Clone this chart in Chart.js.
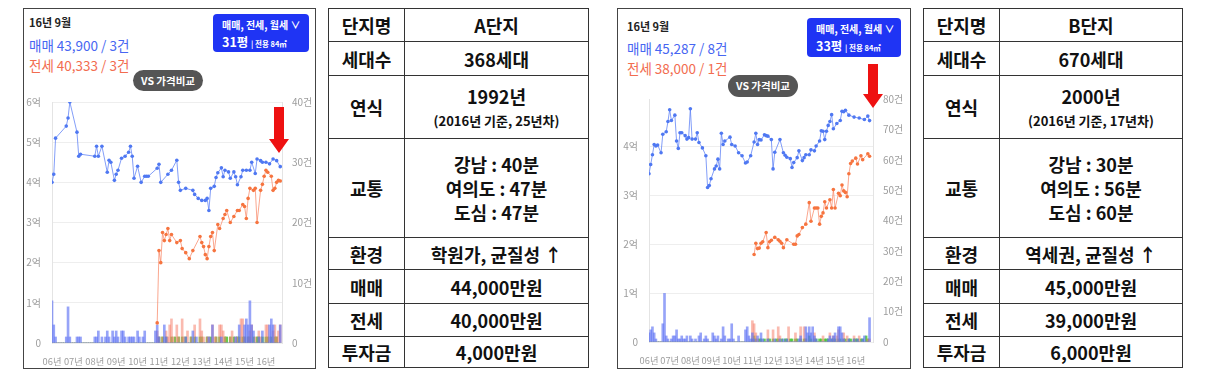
<!DOCTYPE html>
<html>
<head>
<meta charset="utf-8">
<script src="https://cdn.jsdelivr.net/npm/chart.js@4/dist/chart.umd.min.js"></script>
<style>
  body { margin: 0; width: 1211px; height: 374px; background: #fff; position: relative; overflow: hidden;
         font-family: "Noto Sans CJK KR", "Noto Sans", sans-serif; }
  .panel { position: absolute; top: 8px; height: 361px; border: 1px solid #444; box-sizing: border-box; }
  .abs { position: absolute; white-space: nowrap; }
  .date { font-size: 11px; font-weight: 700; color: #222; }
  .sale { font-size: 13.5px; color: #4766f2; }
  .jeonse { font-size: 13.5px; color: #f26c4f; }
  .box { background: #1f34f4; color: #fff; border-radius: 4px; box-sizing: border-box; padding: 3px 0 0 9px; }
  .box .l1 { font-size: 10px; font-weight: 700; line-height: 16px; }
  .box .l2 { font-size: 12.5px; font-weight: 700; line-height: 18px; }
  .box .l2 small { font-size: 7.5px; font-weight: 700; }
  .vs { background: #555; color: #fff; border-radius: 11px; font-size: 10.5px; font-weight: 700;
        text-align: center; box-sizing: border-box; }
  .chartbox { position: absolute; }
  table { position: absolute; top: 8px; border-collapse: collapse; table-layout: fixed; }
  td { border: 1.5px solid #333; text-align: center; font-size: 18px; font-weight: 700; color: #111;
       padding: 0; line-height: 22px; }
  td small { font-size: 13px; font-weight: 700; line-height: 19px; }
</style>
</head>
<body>

<!-- A단지 -->
<div class="panel" style="left:23px;width:293px;"></div>
<div class="abs date" style="left:29px;top:14px;">16년 9월</div>
<div class="abs sale" style="left:29px;top:35px;">매매 43,900 / 3건</div>
<div class="abs jeonse" style="left:29px;top:55px;">전세 40,333 / 3건</div>
<div class="abs box" style="left:213px;top:14px;width:96px;height:38px;">
  <div class="l1">매매, 전세, 월세 ∨</div>
  <div class="l2">31평 <small>| 전용 84㎡</small></div>
</div>
<div class="abs vs" style="left:133px;top:70px;width:70px;height:21px;line-height:21px;">VS 가격비교</div>
<div class="chartbox" style="left:24px;top:85px;width:290px;height:283px;"><canvas id="chartA"></canvas></div>
<svg class="abs" style="left:269px;top:107px;" width="20" height="46">
  <polygon points="5,0 15,0 15,32 20,32 10,46 0,32 5,32" fill="#ee1111"/>
</svg>

<table style="left:328px;width:261px;">
  <colgroup><col style="width:76px"><col></colgroup>
  <tr style="height:33px"><td>단지명</td><td>A단지</td></tr>
  <tr style="height:34px"><td>세대수</td><td>368세대</td></tr>
  <tr style="height:63px"><td>연식</td><td>1992년<br><small>(2016년 기준, 25년차)</small></td></tr>
  <tr style="height:99px"><td>교통</td><td style="line-height:24px">강남 : 40분<br>여의도 : 47분<br>도심 : 47분</td></tr>
  <tr style="height:32px"><td>환경</td><td>학원가, 균질성 ↑</td></tr>
  <tr style="height:34px"><td>매매</td><td>44,000만원</td></tr>
  <tr style="height:33px"><td>전세</td><td>40,000만원</td></tr>
  <tr style="height:31px"><td>투자금</td><td>4,000만원</td></tr>
</table>

<!-- B단지 -->
<div class="panel" style="left:617px;width:294px;"></div>
<div class="abs date" style="left:627px;top:18px;">16년 9월</div>
<div class="abs sale" style="left:627px;top:38px;">매매 45,287 / 8건</div>
<div class="abs jeonse" style="left:627px;top:58px;">전세 38,000 / 1건</div>
<div class="abs box" style="left:807px;top:18px;width:94px;height:39px;">
  <div class="l1">매매, 전세, 월세 ∨</div>
  <div class="l2">33평 <small>| 전용 84㎡</small></div>
</div>
<div class="abs vs" style="left:728px;top:75px;width:70px;height:22px;line-height:22px;">VS 가격비교</div>
<div class="chartbox" style="left:618px;top:82px;width:291px;height:285px;"><canvas id="chartB"></canvas></div>
<svg class="abs" style="left:863px;top:64px;" width="20" height="44">
  <polygon points="5,0 15,0 15,30 20,30 10,44 0,30 5,30" fill="#ee1111"/>
</svg>

<table style="left:923px;width:260px;">
  <colgroup><col style="width:76px"><col></colgroup>
  <tr style="height:33px"><td>단지명</td><td>B단지</td></tr>
  <tr style="height:34px"><td>세대수</td><td>670세대</td></tr>
  <tr style="height:63px"><td>연식</td><td>2000년<br><small>(2016년 기준, 17년차)</small></td></tr>
  <tr style="height:99px"><td>교통</td><td style="line-height:24px">강남 : 30분<br>여의도 : 56분<br>도심 : 60분</td></tr>
  <tr style="height:32px"><td>환경</td><td>역세권, 균질성 ↑</td></tr>
  <tr style="height:34px"><td>매매</td><td>45,000만원</td></tr>
  <tr style="height:33px"><td>전세</td><td>39,000만원</td></tr>
  <tr style="height:31px"><td>투자금</td><td>6,000만원</td></tr>
</table>

<script>
// x values are months counted from 2006-01 (0 = 06년 1월, 128 = 16년 9월)
const yearLabels = ["06년", "07년", "08년", "09년", "10년", "11년", "12년", "13년", "14년", "15년", "16년"];
// price ticks in 만원, count ticks in 건
const priceTicksA = [0, 10000, 20000, 30000, 40000, 50000, 60000];
const countTicksA = [0, 10, 20, 30, 40];
const priceTicksB = [0, 10000, 20000, 30000, 40000];
const countTicksB = [0, 10, 20, 30, 40, 50, 60, 70, 80];

// ---- A단지 ----
const saleMonthsA = [0, 1, 2, 8, 9, 10, 14, 15, 16, 24, 25, 26, 28, 31, 32, 33, 35, 36, 37, 39, 41, 43, 44, 45, 46, 48,
  50, 52, 53, 54, 59, 60, 61, 65, 67, 70, 71, 72, 75, 79, 80, 82, 84, 86, 87, 88, 89, 91, 92, 93, 95, 96, 97, 99, 100,
  102, 103, 104, 106, 107, 109, 111, 112, 114, 115, 117, 118, 120, 122, 124, 126, 128];
const salePriceA = [40000, 42000, 51000, 54000, 56000, 60000, 52500, 46500, 47000, 46500, 49000, 46500, 49000, 42500,
  45500, 45000, 40500, 42000, 43000, 46000, 46500, 47500, 49000, 46500, 41000, 44000, 40000, 41500, 41500, 41500, 43500,
  44500, 40000, 42000, 43000, 45500, 40000, 38000, 38500, 38000, 37000, 36000, 35500, 35500, 36000, 33000, 38500, 39000,
  41200, 42400, 43600, 41400, 43000, 42600, 41000, 42600, 41400, 39400, 41400, 43000, 43000, 43000, 45000, 42200, 45800,
  45400, 45000, 45000, 44600, 45800, 45400, 43900];
const jeonseMonthsA = [59, 60, 61, 62, 63, 64, 65, 66, 67, 70, 72, 73, 75, 77, 79, 83, 84, 85, 86, 87, 88, 89, 90, 91,
  93, 94, 96, 97, 98, 100, 102, 104, 105, 107, 108, 109, 110, 111, 113, 114, 115, 117, 118, 119, 120, 121, 123, 124,
  125, 126, 127, 128];
const jeonsePriceA = [5000, 23000, 20000, 27500, 25500, 27000, 28500, 25500, 27000, 25000, 25500, 23500, 22500, 21000,
  23000, 26500, 25000, 24000, 22000, 21000, 24000, 26500, 27500, 23000, 29500, 28500, 31000, 32000, 33000, 30000, 31500,
  33000, 33000, 34500, 34000, 31000, 36000, 38500, 38000, 38500, 30000, 38000, 39500, 41500, 43000, 42500, 41500, 38000,
  38500, 40000, 40500, 40333];
const saleCountA = [
  7, 3, 1, 0, 0, 0, 0, 0, 1, 6, 1, 0,
  0, 0, 1, 1, 1, 0, 0, 0, 0, 0, 0, 0,
  1, 1, 2, 0, 1, 0, 1, 2, 1, 0, 2, 1,
  2, 1, 0, 2, 2, 1, 0, 1, 1, 1, 1, 0,
  2, 1, 0, 1, 2, 0, 0, 0, 0, 0, 2, 3,
  1, 0, 0, 3, 1, 0, 0, 0, 0, 0, 0, 0,
  0, 0, 0, 1, 0, 0, 0, 2, 0, 1, 0, 0,
  0, 0, 0, 0, 1, 0, 3, 0, 0, 0, 0, 1,
  0, 0, 0, 0, 0, 0, 0, 1, 0, 3, 0, 0,
  3, 4, 3, 7, 3, 2, 0, 0, 1, 0, 2, 0,
  0, 0, 3, 4, 3, 0, 0, 0, 3];
const jeonseCountA = [
  0, 0, 0, 0, 0, 0, 0, 0, 0, 0, 0, 0,
  0, 0, 0, 0, 0, 0, 0, 0, 0, 0, 0, 0,
  0, 0, 0, 0, 0, 0, 0, 0, 0, 0, 0, 0,
  0, 0, 0, 0, 0, 0, 0, 0, 0, 0, 0, 0,
  0, 0, 0, 0, 0, 0, 0, 0, 0, 0, 0, 2,
  1, 0, 1, 0, 2, 1, 3, 4, 1, 0, 3, 1,
  0, 4, 1, 0, 2, 0, 1, 0, 3, 0, 0, 4,
  2, 1, 0, 1, 1, 0, 3, 1, 1, 0, 3, 3,
  2, 1, 0, 0, 1, 2, 0, 1, 1, 0, 4, 4,
  1, 0, 1, 2, 3, 0, 1, 0, 2, 1, 0, 0,
  3, 3, 1, 0, 2, 3, 1, 2, 3];
const rentCountA = [
  0, 0, 0, 0, 0, 0, 0, 0, 0, 0, 0, 0,
  0, 0, 0, 0, 0, 0, 0, 0, 0, 0, 0, 0,
  0, 0, 0, 0, 0, 0, 0, 0, 0, 0, 0, 0,
  0, 0, 0, 0, 0, 0, 0, 0, 0, 0, 0, 0,
  0, 0, 0, 0, 0, 0, 0, 0, 0, 0, 0, 0,
  1, 0, 1, 0, 1, 0, 0, 1, 0, 1, 0, 1,
  0, 1, 0, 1, 0, 0, 1, 0, 1, 0, 0, 1,
  1, 0, 0, 1, 0, 1, 0, 0, 1, 0, 1, 0,
  0, 1, 1, 0, 1, 0, 1, 0, 1, 1, 0, 1,
  1, 0, 1, 1, 0, 1, 0, 1, 1, 0, 1, 0,
  1, 1, 0, 1, 0, 1, 1, 0, 0];

// ---- B단지 ----
const saleMonthsB = [0, 1, 2, 3, 4, 5, 7, 8, 10, 11, 12, 13, 15, 16, 17, 18, 19, 21, 22, 23, 24, 25, 27, 28, 29, 31, 33,
  34, 35, 36, 38, 39, 40, 41, 42, 43, 44, 47, 48, 50, 52, 54, 56, 57, 59, 61, 62, 63, 64, 65, 67, 68, 69, 71, 72, 73,
  76, 78, 79, 80, 82, 83, 84, 86, 87, 89, 90, 91, 93, 94, 96, 97, 99, 100, 101, 102, 103, 104, 105, 106, 107, 109, 111,
  112, 113, 114, 116, 119, 122, 125, 127, 128];
const salePriceB = [34400, 36300, 38300, 40400, 40100, 40300, 38700, 42500, 43000, 45100, 47500, 45300, 46400, 41100,
  39600, 42800, 42800, 42200, 41500, 41800, 47700, 41500, 41500, 42800, 40800, 39700, 38100, 31600, 32000, 33400, 35400,
  36000, 37400, 35400, 42700, 40400, 41100, 41900, 40400, 40100, 38700, 38100, 36600, 36800, 38100, 40900, 42700, 40400,
  41400, 41300, 42400, 42200, 42100, 41400, 35400, 38800, 41400, 38700, 38200, 37800, 37500, 35700, 36700, 37700, 39100,
  37100, 37700, 38300, 38300, 39300, 39100, 40100, 41100, 43200, 43100, 41400, 43100, 44300, 45100, 46500, 43600, 44700,
  45300, 47200, 47100, 47400, 46400, 46000, 45800, 45500, 46200, 45287];
const jeonseMonthsB = [61, 62, 63, 64, 65, 66, 68, 69, 70, 71, 73, 75, 76, 77, 78, 80, 84, 85, 86, 87, 89, 91, 93, 94,
  96, 97, 98, 99, 100, 101, 102, 103, 105, 106, 107, 108, 110, 111, 112, 113, 114, 115, 116, 117, 118, 120, 121, 123,
  124, 127, 128];
const jeonsePriceB = [17900, 20200, 19100, 19200, 20200, 20500, 22400, 19300, 20500, 20800, 21400, 20900, 20600, 20200,
  19300, 20900, 20000, 20000, 21700, 22000, 23400, 24100, 28500, 24700, 27400, 27400, 27400, 24100, 25700, 26400, 28700,
  27400, 29100, 27400, 31200, 27400, 30400, 29900, 32100, 30900, 30600, 29700, 34400, 36500, 37000, 37600, 36400, 38100,
  37300, 38500, 38000];
const saleCountB = [
  3, 4, 5, 3, 1, 0, 0, 0, 6, 16, 2, 1,
  0, 1, 2, 2, 4, 1, 1, 2, 1, 1, 2, 0,
  2, 1, 0, 1, 0, 2, 3, 0, 1, 2, 1, 0,
  0, 3, 2, 1, 2, 0, 1, 5, 2, 0, 1, 1,
  6, 1, 0, 0, 2, 0, 0, 0, 4, 5, 2, 1,
  3, 1, 0, 2, 0, 3, 1, 0, 0, 1, 0, 0,
  0, 1, 0, 0, 1, 0, 1, 0, 1, 0, 0, 0,
  0, 0, 0, 1, 2, 0, 0, 5, 3, 5, 3, 5,
  2, 1, 0, 0, 0, 0, 0, 0, 1, 2, 1, 2,
  3, 0, 5, 5, 3, 1, 0, 0, 1, 0, 0, 1,
  0, 1, 0, 0, 1, 2, 0, 0, 8];
const jeonseCountB = [
  0, 0, 0, 0, 0, 0, 0, 0, 0, 0, 0, 0,
  0, 0, 0, 0, 0, 0, 0, 0, 0, 0, 0, 0,
  0, 0, 0, 0, 0, 0, 0, 0, 0, 0, 0, 0,
  0, 0, 0, 0, 0, 0, 0, 0, 0, 0, 0, 0,
  0, 0, 0, 0, 0, 0, 0, 0, 0, 0, 0, 0,
  7, 6, 3, 1, 0, 0, 0, 0, 0, 4, 0, 0,
  4, 0, 0, 5, 2, 0, 0, 0, 0, 5, 0, 0,
  0, 3, 0, 0, 5, 0, 5, 1, 0, 0, 0, 0,
  3, 0, 0, 0, 0, 2, 0, 0, 0, 3, 0, 2,
  0, 2, 4, 0, 0, 3, 0, 2, 0, 0, 0, 2,
  0, 0, 2, 0, 0, 0, 0, 1, 1];
const rentCountB = [
  0, 0, 0, 0, 0, 0, 0, 0, 0, 0, 0, 0,
  0, 0, 0, 0, 0, 0, 0, 0, 0, 0, 0, 0,
  0, 0, 0, 0, 0, 0, 0, 0, 0, 0, 0, 0,
  0, 0, 0, 0, 0, 0, 0, 0, 0, 0, 0, 0,
  0, 0, 0, 0, 0, 0, 0, 0, 0, 0, 0, 0,
  1, 2, 1, 0, 1, 1, 0, 1, 0, 1, 1, 0,
  1, 0, 1, 1, 0, 1, 0, 1, 1, 0, 1, 1,
  0, 1, 1, 0, 1, 0, 1, 1, 0, 2, 1, 0,
  1, 1, 0, 1, 1, 0, 1, 1, 1, 0, 1, 1,
  1, 0, 1, 1, 0, 1, 1, 0, 1, 1, 0, 1,
  1, 1, 0, 1, 1, 0, 2, 1, 0];

const tickFont = { family: "Noto Sans CJK KR", size: 10 };
const xTickFont = { family: "Noto Sans CJK KR", size: 9.3 };
const tickColor = "#9d9d9d";

function points(months, values) {
  return values.map((v, i) => ({ x: months[i], y: v }));
}
function bars(counts) {
  return counts.map((v, i) => ({ x: i, y: v }));
}

function makeChart(id, o) {
  const ctx = document.getElementById(id).getContext("2d");
  return new Chart(ctx, {
    type: "line",
    data: {
      datasets: [
        { label: "매매", data: points(o.saleMonths, o.salePrice), yAxisID: "y", order: 1,
          borderColor: "rgba(90,125,245,0.75)", borderWidth: 1, pointRadius: 1.8, pointBorderWidth: 0,
          pointBackgroundColor: "#4f78f2", tension: 0 },
        { label: "전세", data: points(o.jeonseMonths, o.jeonsePrice), yAxisID: "y", order: 1,
          borderColor: "rgba(248,130,95,0.7)", borderWidth: 1, pointRadius: 1.8, pointBorderWidth: 0,
          pointBackgroundColor: "#f6743f", tension: 0 },
        { type: "bar", label: "매매 건수", data: bars(o.saleCount), yAxisID: "y2", order: 2,
          backgroundColor: "rgba(95,115,245,0.65)", barThickness: 2, grouped: false },
        { type: "bar", label: "전세 건수", data: bars(o.jeonseCount), yAxisID: "y2", order: 2,
          backgroundColor: "rgba(245,130,110,0.55)", barThickness: 2, grouped: false },
        { type: "bar", label: "월세 건수", data: bars(o.rentCount), yAxisID: "y2", order: 2,
          backgroundColor: "rgba(70,200,50,0.85)", barThickness: 2, grouped: false }
      ]
    },
    options: {
      responsive: true,
      maintainAspectRatio: false,
      animation: false,
      layout: { padding: { top: 12 } },
      plugins: { legend: { display: false }, tooltip: { enabled: false } },
      scales: {
        x: {
          type: "linear", min: 0, max: o.xMax, offset: false,
          grid: { display: false }, border: { display: false },
          afterBuildTicks: axis => { axis.ticks = yearLabels.map((l, i) => ({ value: i * 12 })); },
          afterFit: axis => { axis.height = 25; },
          ticks: { font: xTickFont, color: tickColor, padding: 5, maxRotation: 0, autoSkip: false,
                   callback: v => yearLabels[v / 12] }
        },
        y: {
          position: "left", min: 0, max: o.yMax,
          afterBuildTicks: axis => { axis.ticks = o.priceTicks.map(v => ({ value: v })); },
          afterFit: axis => { axis.width = o.leftW; },
          grid: { color: "#eeeeee", drawTicks: false },
          border: { display: true, color: "#e4e4e4" },
          ticks: { font: tickFont, color: tickColor, padding: 11,
                   callback: v => v === 0 ? "0" : (v / 10000) + "억" }
        },
        y2: {
          position: "right", min: 0, max: o.countMax,
          afterBuildTicks: axis => { axis.ticks = o.countTicks.map(v => ({ value: v })); },
          afterFit: axis => { axis.width = o.rightW; },
          grid: { drawOnChartArea: false, drawTicks: false },
          border: { display: true, color: "#e4e4e4" },
          ticks: { font: tickFont, color: tickColor, padding: 10,
                   callback: v => v === 0 ? "0" : v + "건" }
        }
      }
    }
  });
}

makeChart("chartA", {
  saleMonths: saleMonthsA, salePrice: salePriceA, jeonseMonths: jeonseMonthsA, jeonsePrice: jeonsePriceA,
  saleCount: saleCountA, jeonseCount: jeonseCountA, rentCount: rentCountA,
  priceTicks: priceTicksA, countTicks: countTicksA,
  xMax: 129, yMax: 60000, countMax: 40, leftW: 28, rightW: 32
});
makeChart("chartB", {
  saleMonths: saleMonthsB, salePrice: salePriceB, jeonseMonths: jeonseMonthsB, jeonsePrice: jeonsePriceB,
  saleCount: saleCountB, jeonseCount: jeonseCountB, rentCount: rentCountB,
  priceTicks: priceTicksB, countTicks: countTicksB,
  xMax: 130, yMax: 49700, countMax: 80, leftW: 31, rightW: 36
});
</script>
</body>
</html>
